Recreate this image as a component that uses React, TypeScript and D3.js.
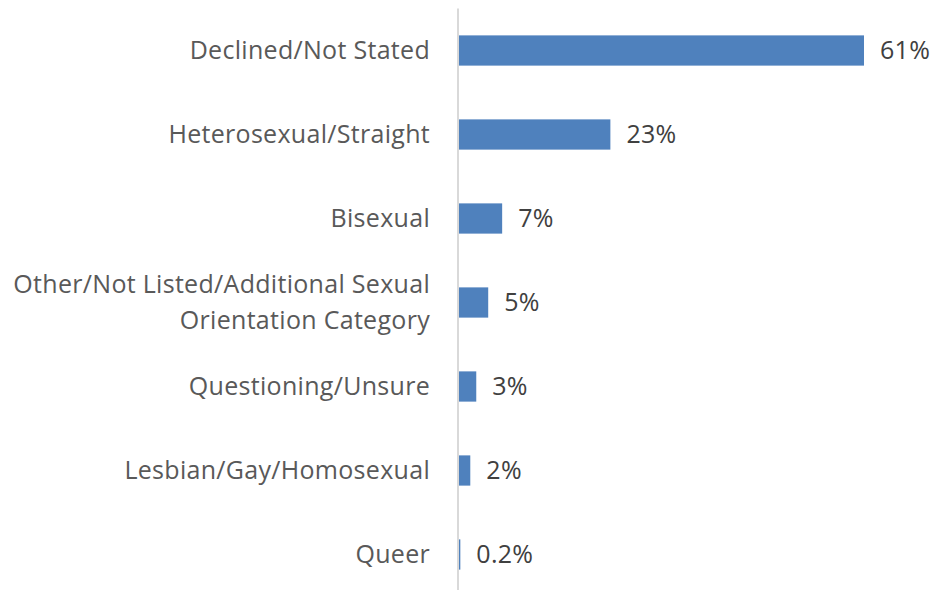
import React, { useEffect, useRef } from 'react'
import * as d3 from 'd3'

// categories, top to bottom (multi-line labels split on "|")
const categories = [
  'Declined/Not Stated',
  'Heterosexual/Straight',
  'Bisexual',
  'Other/Not Listed/Additional Sexual|Orientation Category',
  'Questioning/Unsure',
  'Lesbian/Gay/Homosexual',
  'Queer',
]
// share of respondents (%)
const values = [61, 22.8, 6.5, 4.4, 2.6, 1.7, 0.2]
// printed data labels
const valueLabels = ['61%', '23%', '7%', '5%', '3%', '2%', '0.2%']

const W = 935
const H = 590

export default function App() {
  const ref = useRef<SVGSVGElement>(null)

  useEffect(() => {
    const svg = d3.select(ref.current)
    svg.selectAll('*').remove()

    const axisX = 458
    const font = '"Open Sans", sans-serif'
    const fs = '25px'

    const y = d3.scaleBand<string>()
      .domain(categories)
      .range([8.5, 596.5])
      .paddingInner(0.64)
      .paddingOuter(0.32)

    const x = d3.scaleLinear()
      .domain([0, 61])
      .range([axisX + 1, 864])

    const g = svg.append('g')

    // bars
    g.selectAll('.bar')
      .data(categories)
      .enter().append('rect')
      .attr('class', 'bar')
      .attr('x', x(0))
      .attr('y', d => y(d)!)
      .attr('height', y.bandwidth())
      .attr('width', (d, i) => Math.max(1, x(values[i]) - x(0)))
      .style('fill', '#4f81bd')

    // value labels
    g.selectAll('.val')
      .data(categories)
      .enter().append('text')
      .attr('class', 'val')
      .attr('x', (d, i) => Math.max(x(values[i]), x(0) + 1) + 16)
      .attr('y', d => y(d)! + y.bandwidth() / 2)
      .attr('dy', '0.34em')
      .style('font-family', font)
      .style('font-size', fs)
      .style('letter-spacing', '0.3px')
      .style('fill', '#404040')
      .text((d, i) => valueLabels[i])

    // category labels
    const lab = g.selectAll('.cat')
      .data(categories)
      .enter().append('text')
      .attr('class', 'cat')
      .attr('text-anchor', 'end')
      .style('font-family', font)
      .style('font-size', fs)
      .style('letter-spacing', '0.3px')
      .style('fill', '#595959')

    lab.each(function (d) {
      const lines = d.split('|')
      const cy = y(d)! + y.bandwidth() / 2
      const lh = 36
      lines.forEach((line, j) => {
        d3.select(this).append('tspan')
          .attr('x', 430)
          .attr('y', cy + (j - (lines.length - 1) / 2) * lh)
          .attr('dy', '0.34em')
          .text(line)
      })
    })

    // vertical axis line
    g.append('line')
      .attr('x1', axisX).attr('x2', axisX)
      .attr('y1', 8.5).attr('y2', H)
      .style('stroke', '#d9d9d9')
      .style('stroke-width', 2)
  }, [])

  return (
    <div style={{ position: 'absolute', left: 0, top: 0 }}>
      <svg ref={ref} width={W} height={H} style={{ display: 'block', background: '#fff' }} />
    </div>
  )
}
